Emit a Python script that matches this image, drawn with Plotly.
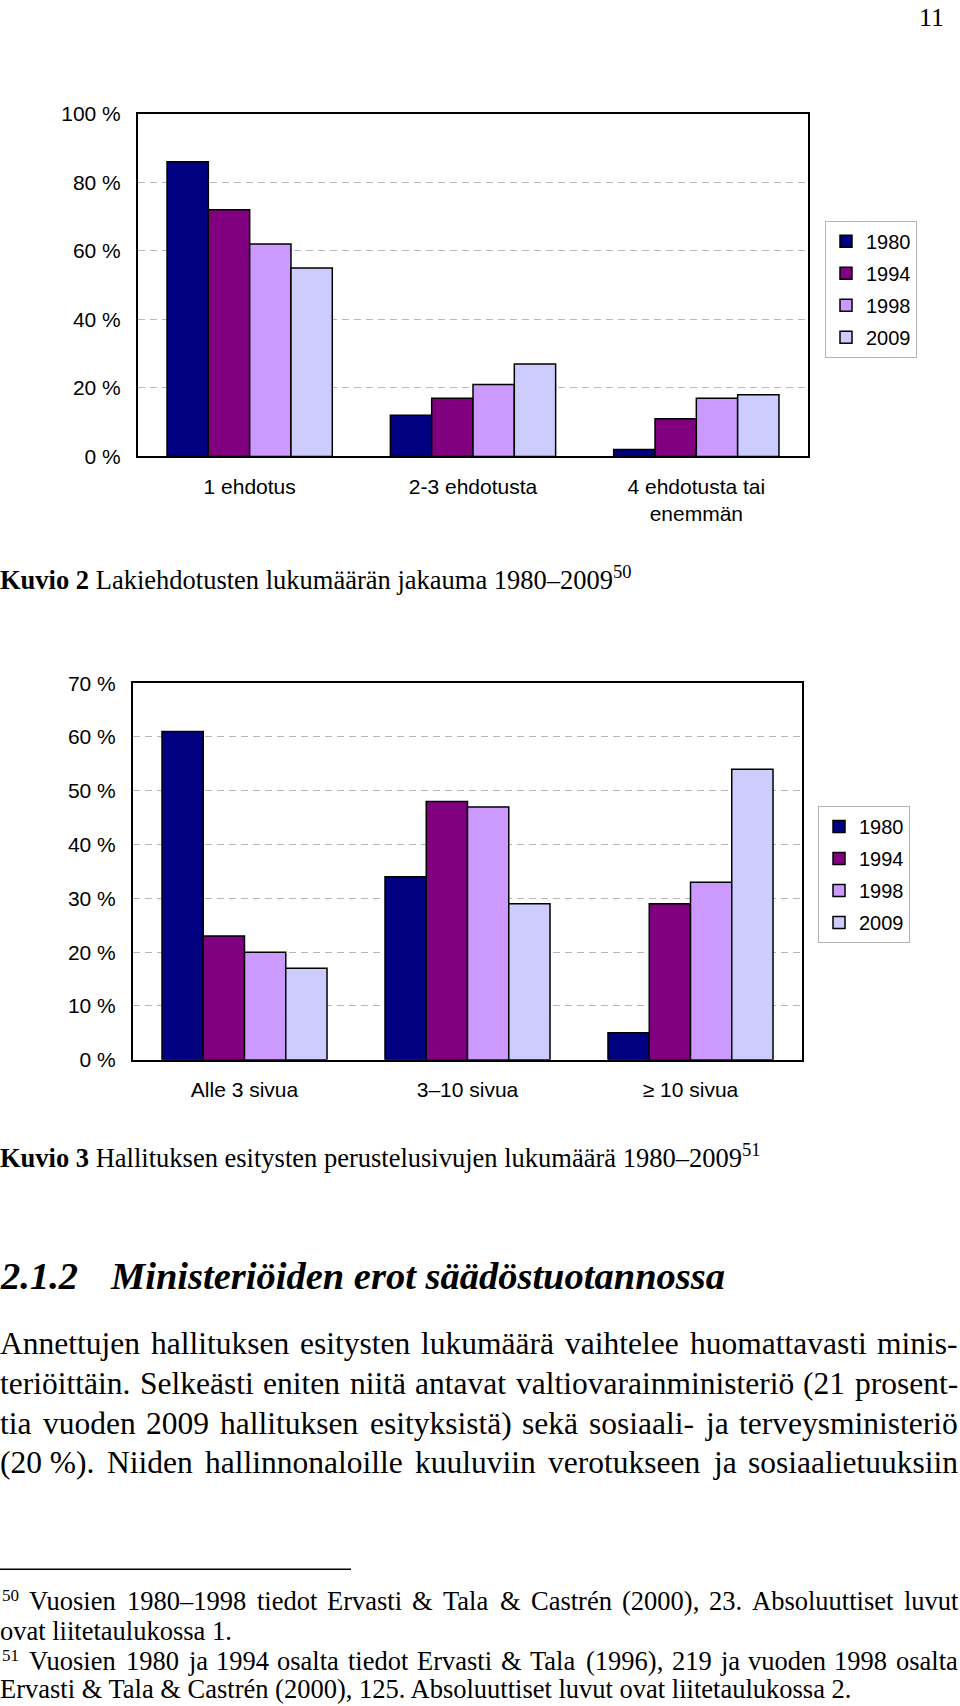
import plotly.graph_objects as go

# ---------------- data ----------------
years = ["1980", "1994", "1998", "2009"]
colors = ["#000080", "#800080", "#CC99FF", "#CCCCFF"]

cats1 = ["1 ehdotus", "2-3 ehdotusta", "4 ehdotusta tai<br>enemmän"]
vals1_1980 = [86, 12, 2]
vals1_1994 = [72, 17, 11]
vals1_1998 = [62, 21, 17]
vals1_2009 = [55, 27, 18]
ticks1 = [0, 20, 40, 60, 80, 100]
ticktext1 = ["0 %", "20 %", "40 %", "60 %", "80 %", "100 %"]

cats2 = ["Alle 3 sivua", "3\u201310 sivua", "\u2265 10 sivua"]
vals2_1980 = [61, 34, 5]
vals2_1994 = [23, 48, 29]
vals2_1998 = [20, 47, 33]
vals2_2009 = [17, 29, 54]
ticks2 = [0, 10, 20, 30, 40, 50, 60, 70]
ticktext2 = ["0 %", "10 %", "20 %", "30 %", "40 %", "50 %", "60 %", "70 %"]

series1 = [vals1_1980, vals1_1994, vals1_1998, vals1_2009]
series2 = [vals2_1980, vals2_1994, vals2_1998, vals2_2009]

W, H = 960, 1706


def px(x):
    return x / W


def py(y):
    # vertical page position (pixels from top) -> paper fraction
    yy = (y - 10) / 0.9877
    return 1 - yy / H


SANS = "Liberation Sans, Arial, sans-serif"
SERIF = "Liberation Serif, Times New Roman, serif"

fig = go.Figure()

for yr, col, v in zip(years, colors, series1):
    fig.add_trace(go.Bar(
        x=cats1, y=v, name=yr, xaxis="x", yaxis="y",
        marker=dict(color=col, line=dict(color="black", width=1.5)),
        legend="legend", legendgroup="a" + yr, hoverinfo="skip"))

for yr, col, v in zip(years, colors, series2):
    fig.add_trace(go.Bar(
        x=cats2, y=v, name=yr, xaxis="x2", yaxis="y2",
        marker=dict(color=col, line=dict(color="black", width=1.5)),
        legend="legend2", legendgroup="b" + yr, hoverinfo="skip"))

axis_common = dict(showline=True, mirror=True, linecolor="black", linewidth=2,
                   zeroline=False, fixedrange=True)
xcommon = dict(axis_common, type="category", ticks="", showgrid=False,
               tickfont=dict(family=SANS, size=21, color="black"),
               ticklabelstandoff=10)
ycommon = dict(axis_common, showgrid=True, gridcolor="#b8b8b8", gridwidth=1,
               griddash="7px,5px", ticks="",
               tickfont=dict(family=SANS, size=21, color="black"),
               ticklabelstandoff=11)

legend_common = dict(xanchor="left", yanchor="top", bgcolor="white",
                     bordercolor="#b5b5b5", borderwidth=1,
                     font=dict(family=SANS, size=20, color="black"),
                     tracegroupgap=3, traceorder="grouped",
                     itemclick=False, itemdoubleclick=False)

fig.update_layout(
    width=W, height=H,
    margin=dict(l=0, r=0, t=0, b=0),
    paper_bgcolor="white", plot_bgcolor="white",
    barmode="group", bargap=0.26, bargroupgap=0,
    showlegend=True,
    xaxis=dict(xcommon, domain=[px(138), px(808)], anchor="y"),
    yaxis=dict(ycommon, domain=[py(455), py(112)], anchor="x",
               range=[0, 100], tickvals=ticks1, ticktext=ticktext1),
    xaxis2=dict(xcommon, domain=[px(133), px(802)], anchor="y2"),
    yaxis2=dict(ycommon, domain=[py(1059), py(682)], anchor="x2",
                range=[0, 70], tickvals=ticks2, ticktext=ticktext2),
    legend=dict(legend_common, x=px(825), y=py(219)),
    legend2=dict(legend_common, x=px(818), y=py(805)),
)

# Times-Roman advance widths (per 1000 em) for justified text layout
TW = {" ": 250, "%": 833, "&": 778, "(": 333, ")": 333, ",": 250, "-": 333,
      ".": 250, "\u2013": 500, "\u00e4": 444, "\u00f6": 500, "\u00e9": 444,
      "A": 722, "B": 667, "C": 667, "D": 722, "E": 611, "F": 556, "G": 722,
      "H": 722, "I": 333, "J": 389, "K": 722, "L": 611, "M": 889, "N": 722,
      "O": 722, "P": 556, "Q": 722, "R": 667, "S": 556, "T": 611, "U": 722,
      "V": 722, "W": 944, "X": 722, "Y": 722, "Z": 611,
      "a": 444, "b": 500, "c": 444, "d": 500, "e": 444, "f": 333, "g": 500,
      "h": 500, "i": 278, "j": 278, "k": 500, "l": 278, "m": 778, "n": 500,
      "o": 500, "p": 500, "q": 500, "r": 333, "s": 389, "t": 278, "u": 500,
      "v": 500, "w": 722, "x": 500, "y": 500, "z": 444}


def tw(s, size):
    return sum(TW.get(c, 500) for c in s) / 1000.0 * size


annotations = []


def esc(s):
    return s.replace("&", "&amp;")


def txt(x, y, text, size, xanchor="left", family=SERIF):
    annotations.append(dict(
        x=px(x), y=py(y), xref="paper", yref="paper", text=text,
        showarrow=False, xanchor=xanchor, yanchor="middle",
        borderpad=0, borderwidth=0,
        font=dict(family=family, size=size, color="black"), align="left"))


def justify(y, line, size, x0=0, x1=958):
    words = line.split(" ")
    words = [w.replace("\u00a0", " ") for w in words]
    widths = [tw(w, size) for w in words]
    gap = (x1 - x0 - sum(widths)) / (len(words) - 1)
    x = x0
    for w, wd in zip(words, widths):
        txt(x, y, esc(w), size)
        x += wd + gap


# page number
txt(944, 16, "11", 26, xanchor="right")

# captions
txt(0, 577, "<b>Kuvio 2</b> Lakiehdotusten lukumäärän jakauma 1980\u20132009<sup>50</sup>", 26.5)
txt(0, 1155, "<b>Kuvio 3</b> Hallituksen esitysten perustelusivujen lukumäärä 1980\u20132009<sup>51</sup>", 26.5)

# heading
txt(0, 1276, "<b><i>2.1.2</i></b>", 38.5)
txt(110, 1276, "<b><i>Ministeriöiden erot säädöstuotannossa</i></b>", 38.5)

# body text (justified)
BODY = 31.5
justify(1343, "Annettujen hallituksen esitysten lukumäärä vaihtelee huomattavasti minis-", BODY)
justify(1383, "teriöittäin. Selkeästi eniten niitä antavat valtiovarainministeriö (21 prosent-", BODY)
justify(1423, "tia vuoden 2009 hallituksen esityksistä) sekä sosiaali- ja terveysministeriö", BODY)
justify(1462, "(20\u00a0%). Niiden hallinnonaloille kuuluviin verotukseen ja sosiaalietuuksiin", BODY)

# footnotes
FN = 26.5
txt(2, 1595, "50", 17)
justify(1601, "Vuosien 1980\u20131998 tiedot Ervasti & Tala & Castrén (2000), 23. Absoluuttiset luvut", FN, x0=29)
txt(0, 1631, "ovat liitetaulukossa 1.", FN)
txt(2, 1655, "51", 17)
justify(1661, "Vuosien 1980 ja 1994 osalta tiedot Ervasti & Tala (1996), 219 ja vuoden 1998 osalta", FN, x0=29)
txt(0, 1689, esc("Ervasti & Tala & Castrén (2000), 125. Absoluuttiset luvut ovat liitetaulukossa 2."), FN)

fig.update_layout(annotations=annotations)

fig.add_shape(type="line", xref="paper", yref="paper",
              x0=px(0), x1=px(351), y0=py(1569), y1=py(1569),
              line=dict(color="black", width=1.5))

css_js = (
    "var h=document.documentElement,b=document.body;"
    "h.style.margin='0';h.style.padding='0';"
    "b.style.margin='0';b.style.padding='0';b.style.overflow='hidden';"
)

fig.write_html("out.html", config={"displayModeBar": False, "staticPlot": True},
               post_script=css_js)
